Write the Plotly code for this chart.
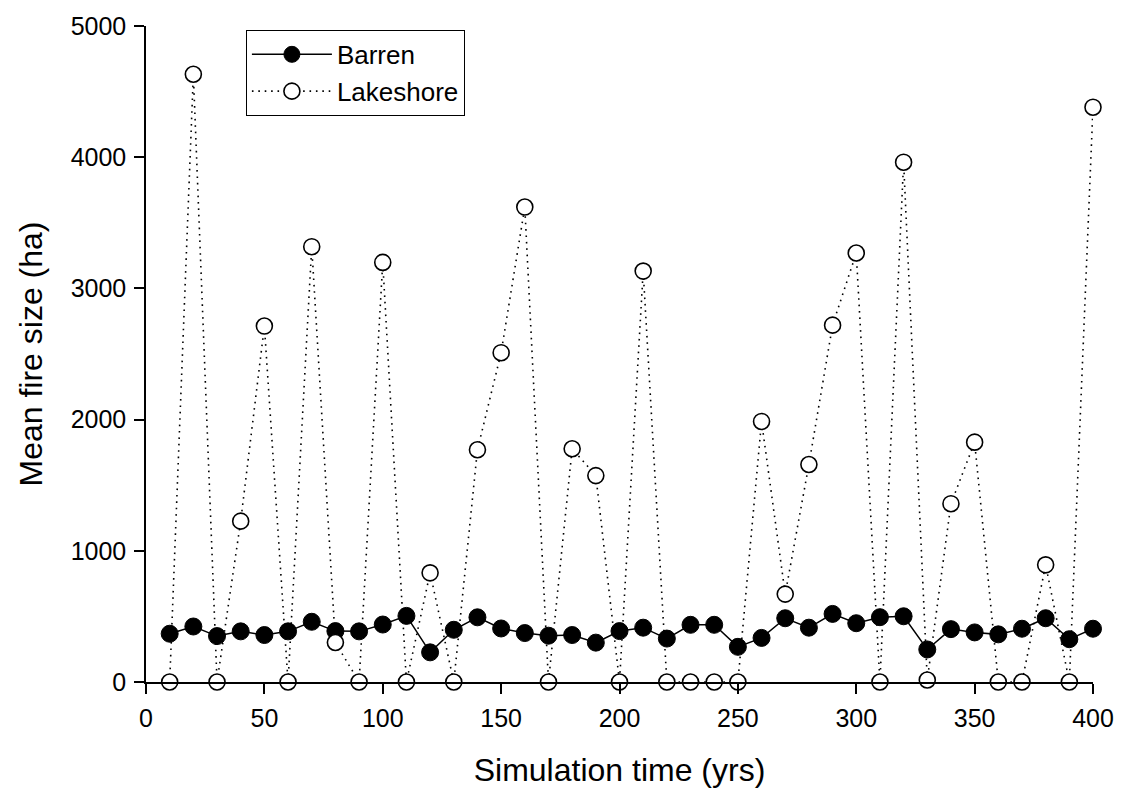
import plotly.graph_objects as go

# Simulation time (years) at which mean fire size was recorded
sim_years = [10, 20, 30, 40, 50, 60, 70, 80, 90, 100,
             110, 120, 130, 140, 150, 160, 170, 180, 190, 200,
             210, 220, 230, 240, 250, 260, 270, 280, 290, 300,
             310, 320, 330, 340, 350, 360, 370, 380, 390, 400]

# Mean fire size (ha) per landscape type
barren_ha = [368, 423, 350, 386, 358, 386, 459, 388, 386, 438,
             504, 226, 398, 493, 408, 373, 353, 358, 300, 388,
             414, 331, 436, 436, 268, 336, 486, 414, 519, 448,
             494, 501, 248, 403, 378, 363, 406, 486, 326, 406]

lakeshore_ha = [0, 4632, 0, 1226, 2713, 0, 3318, 301, 0, 3198,
                0, 832, 0, 1770, 2510, 3620, 0, 1778, 1573, 0,
                3132, 0, 0, 0, 0, 1986, 670, 1658, 2720, 3270,
                0, 3962, 15, 1359, 1828, 0, 0, 893, 0, 4381]

x_ticks = [0, 50, 100, 150, 200, 250, 300, 350, 400]
y_ticks = [0, 1000, 2000, 3000, 4000, 5000]

FONT = "Liberation Sans, Arial, sans-serif"

fig = go.Figure()

fig.add_trace(go.Scatter(
    x=sim_years, y=barren_ha, name="Barren",
    mode="lines+markers",
    line=dict(color="black", width=1.5),
    marker=dict(symbol="circle", size=17, color="black",
                line=dict(color="black", width=1)),
    cliponaxis=False,
))

fig.add_trace(go.Scatter(
    x=sim_years, y=lakeshore_ha, name="Lakeshore",
    mode="lines+markers",
    line=dict(color="black", width=1.6, dash="1.6px,4.8px"),
    marker=dict(symbol="circle", size=16, color="white",
                line=dict(color="black", width=1.6)),
    cliponaxis=False,
))

fig.update_layout(
    width=1126, height=797,
    margin=dict(l=146, r=32, t=18, b=115),
    paper_bgcolor="white", plot_bgcolor="white",
    font=dict(family=FONT, color="black", size=25),
    showlegend=True,
    legend=dict(
        x=0.1055, y=0.994, xanchor="left", yanchor="top",
        bordercolor="black", borderwidth=1, bgcolor="white",
        font=dict(family=FONT, size=26, color="black"),
        itemwidth=80,
        tracegroupgap=0,
    ),
    xaxis=dict(
        range=[0, 400], tickvals=x_ticks,
        showline=True, linecolor="black", linewidth=1.5,
        ticks="outside", ticklen=10, tickwidth=1.5, tickcolor="black",
        showgrid=False, zeroline=False, ticklabelstandoff=3,
        tickfont=dict(family=FONT, size=25, color="black"),
        title=dict(text="Simulation time (yrs)", standoff=28,
                   font=dict(family=FONT, size=32, color="black")),
    ),
    yaxis=dict(
        range=[0, 5000], tickvals=y_ticks,
        showline=True, linecolor="black", linewidth=1.5,
        ticks="outside", ticklen=10, tickwidth=1.5, tickcolor="black",
        showgrid=False, zeroline=False, ticklabelstandoff=3,
        tickfont=dict(family=FONT, size=25, color="black"),
        title=dict(text="Mean fire size (ha)", standoff=18,
                   font=dict(family=FONT, size=32, color="black")),
    ),
)

fig.write_html("out.html")
